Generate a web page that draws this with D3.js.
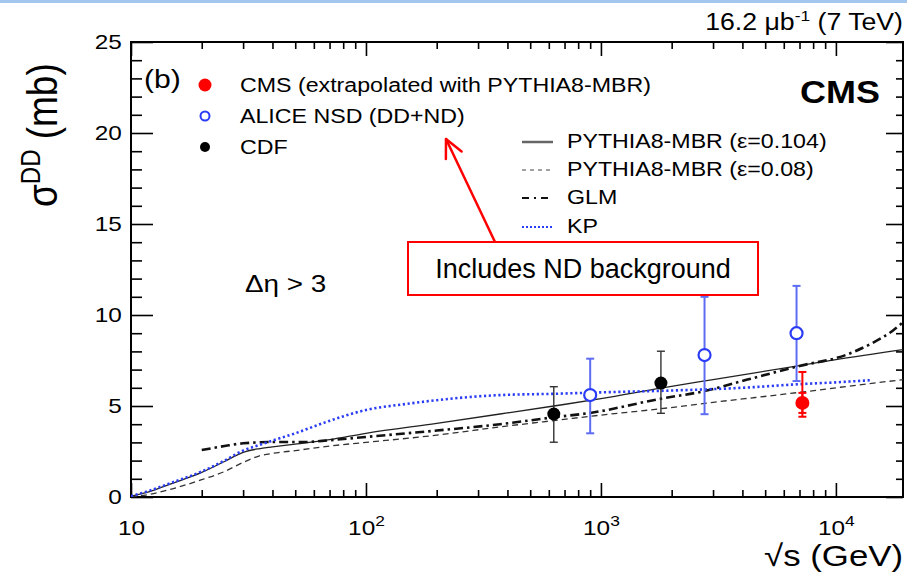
<!DOCTYPE html>
<html><head><meta charset="utf-8">
<script src="https://cdn.jsdelivr.net/npm/d3@7"></script>
<style>
body{margin:0;background:#fff;}
svg{display:block;font-family:"Liberation Sans",Arial,Helvetica,sans-serif;}
</style></head><body>
<svg id="c" width="907" height="574"></svg>
<script>
// ---------------- data ----------------
const xTickMajor = [10, 100, 1000, 10000];
const xTickExp = [1, 2, 3, 4];
const xTickMinor = [20,30,40,50,60,70,80,90,200,300,400,500,600,700,800,900,2000,3000,4000,5000,6000,7000,8000,9000];
const yTickMajor = [0, 5, 10, 15, 20, 25];
const yTickMinor = [1,2,3,4,6,7,8,9,11,12,13,14,16,17,18,19,21,22,23,24];

// PYTHIA8-MBR (eps=0.104)
const p104E   = [10,12,15,20,25,30,35,40,50,70,100,200,372,630,1000,1800,3000,7000,10000,19300];
const p104Sig = [0.05,0.3,0.75,1.35,1.95,2.45,2.65,2.75,2.9,3.15,3.5,4.05,4.56,5.0,5.4,5.98,6.45,7.22,7.55,8.1];
// PYTHIA8-MBR (eps=0.08)
const p08E   = [10,12,15,20,25,30,35,40,50,70,100,200,372,630,1000,1800,3000,7000,10000,19300];
const p08Sig = [0.0,0.15,0.45,0.95,1.4,1.9,2.25,2.4,2.55,2.8,3.0,3.4,3.85,4.2,4.5,4.85,5.2,5.75,6.0,6.45];
// GLM
const glmE   = [20,25,30,40,55,70,100,200,372,630,900,1800,2760,4200,7000,11000,14000,17500,19300];
const glmSig = [2.58,2.8,2.95,3.02,3.02,3.12,3.3,3.65,4.0,4.38,4.62,5.4,5.82,6.45,7.2,7.8,8.4,9.15,9.6];
// KP
const kpE   = [10,12,15,20,25,30,35,40,50,67,100,150,200,372,630,1000,2000,4000,7000,10000,14200];
const kpSig = [0.05,0.35,0.8,1.4,2.0,2.55,2.85,3.1,3.5,4.1,4.78,5.12,5.32,5.6,5.67,5.75,5.85,6.0,6.2,6.3,6.42];

// measurements
const cmsE = [7200], cmsSig = [5.17], cmsUp = [1.70], cmsDn = [0.76], cmsSysUp = [0.55], cmsSysDn = [0.55];
const aliceE = [900, 2760, 6800], aliceSig = [5.6, 7.8, 9.0], aliceUp = [2.0, 3.2, 2.6], aliceDn = [2.1, 3.25, 2.63];
const cdfE = [630, 1800], cdfSig = [4.56, 6.26], cdfUp = [1.5, 1.75], cdfDn = [1.55, 1.66];

const legendMarkers = ["CMS (extrapolated with PYTHIA8-MBR)", "ALICE NSD (DD+ND)", "CDF"];
const legendLines = ["PYTHIA8-MBR (\u03b5=0.104)", "PYTHIA8-MBR (\u03b5=0.08)", "GLM", "KP"];

// ---------------- layout ----------------
const L = 131, R = 903, T = 42, B = 497;
const SX = 1.16; // horizontal stretch of the original plot image
const svg = d3.select("#c");
const x = d3.scaleLog().domain([10, 19300]).range([L, R]);
const y = d3.scaleLinear().domain([0, 25]).range([B, T]);
const BLUE = "#2b3cf5";

svg.append("rect").attr("x",0).attr("y",0).attr("width",907).attr("height",3).attr("fill","#a3c6ef");

function txt(px, py, opts) {
  const g = svg.append("g").attr("transform",
    `translate(${px},${py}) scale(${opts.sx ?? SX},1)` + (opts.rot ? ` rotate(${opts.rot})` : ""));
  const t = g.append("text")
    .attr("font-size", opts.size)
    .attr("text-anchor", opts.anchor || "start")
    .attr("font-weight", opts.weight || "normal")
    .attr("fill", opts.fill || "#000");
  return t;
}

// clip
svg.append("clipPath").attr("id","plotclip").append("rect")
  .attr("x", L).attr("y", T).attr("width", R - L).attr("height", B - T);

// ---------------- axes ticks ----------------
function tickStyle(g) {
  g.select(".domain").remove();
  g.selectAll(".tick line").attr("stroke", "#000").attr("stroke-width", 1.6);
}
svg.append("g").attr("transform", `translate(0,${B})`)
  .call(d3.axisBottom(x).tickValues(xTickMinor).tickSize(-7).tickFormat("")).call(tickStyle);
const xMaj = svg.append("g").attr("transform", `translate(0,${B})`)
  .call(d3.axisBottom(x).tickValues(xTickMajor).tickSize(-14).tickFormat("")).call(tickStyle);
svg.append("g").attr("transform", `translate(0,${T})`)
  .call(d3.axisTop(x).tickValues(xTickMinor).tickSize(-7).tickFormat("")).call(tickStyle);
svg.append("g").attr("transform", `translate(0,${T})`)
  .call(d3.axisTop(x).tickValues(xTickMajor).tickSize(-14).tickFormat("")).call(tickStyle);

svg.append("g").attr("transform", `translate(${L},0)`)
  .call(d3.axisLeft(y).tickValues(yTickMinor).tickSize(-11).tickFormat("")).call(tickStyle);
const yMaj = svg.append("g").attr("transform", `translate(${L},0)`)
  .call(d3.axisLeft(y).tickValues(yTickMajor).tickSize(-22).tickPadding(8).tickFormat(d3.format("d"))).call(tickStyle);
svg.append("g").attr("transform", `translate(${R},0)`)
  .call(d3.axisRight(y).tickValues(yTickMinor).tickSize(-7).tickFormat("")).call(tickStyle);
svg.append("g").attr("transform", `translate(${R},0)`)
  .call(d3.axisRight(y).tickValues(yTickMajor).tickSize(-17).tickFormat("")).call(tickStyle);

yMaj.selectAll(".tick text")
  .attr("font-size", 21).attr("fill", "#000")
  .attr("font-family", '"Liberation Sans",Arial,sans-serif')
  .attr("transform", `scale(${SX},1)`);

xMaj.selectAll(".tick text").each(function(d, i) {
  const t = d3.select(this);
  t.attr("font-size", 21).attr("fill", "#000").attr("y", 38).attr("dy", 0)
   .attr("font-family", '"Liberation Sans",Arial,sans-serif')
   .attr("transform", `scale(${SX},1)`);
  t.text("10");
  if (xTickExp[i] > 1) {
    t.append("tspan").attr("font-size", 15).attr("dy", -9).text(xTickExp[i]);
  }
});

// frame
svg.append("rect").attr("x", L).attr("y", T).attr("width", R - L).attr("height", B - T)
  .attr("fill", "none").attr("stroke", "#000").attr("stroke-width", 2);

// ---------------- curves ----------------
const plot = svg.append("g").attr("clip-path", "url(#plotclip)");
const line = d3.line().x(d => x(d[0])).y(d => y(d[1])).curve(d3.curveMonotoneX);
function curve(E, S, stroke, w, dash) {
  plot.append("path").datum(E.map((e, i) => [e, S[i]]))
    .attr("d", line).attr("fill", "none").attr("stroke", stroke)
    .attr("stroke-width", w).attr("stroke-dasharray", dash || null);
}
curve(p08E, p08Sig, "#333", 1.3, "6,4");
curve(p104E, p104Sig, "#222", 1.3, null);
curve(glmE, glmSig, "#111", 2.6, "9,4,2.5,4");
curve(kpE, kpSig, BLUE, 2.6, "2.2,2.6");

// ---------------- data points ----------------
function errBars(E, S, up, dn, color, w, cap) {
  E.forEach((e, i) => {
    const cx = x(e);
    const y1 = y(S[i] + up[i]), y2 = y(S[i] - dn[i]);
    plot.append("line").attr("x1", cx).attr("x2", cx).attr("y1", y1).attr("y2", y2)
      .attr("stroke", color).attr("stroke-width", w);
    [y1, y2].forEach(yy => plot.append("line").attr("x1", cx - cap).attr("x2", cx + cap)
      .attr("y1", yy).attr("y2", yy).attr("stroke", color).attr("stroke-width", w));
  });
}
errBars(cdfE, cdfSig, cdfUp, cdfDn, "#333", 1.4, 4);
errBars(aliceE, aliceSig, aliceUp, aliceDn, "#5d6cf2", 2, 4);
errBars(cmsE, cmsSig, cmsUp, cmsDn, "#f00", 2, 4);
errBars(cmsE, cmsSig, cmsSysUp, cmsSysDn, "#f00", 2, 4);

plot.selectAll(".cdf").data(cdfE).enter().append("circle")
  .attr("cx", d => x(d)).attr("cy", (d, i) => y(cdfSig[i])).attr("r", 6.5).attr("fill", "#000");
plot.selectAll(".alice").data(aliceE).enter().append("circle")
  .attr("cx", d => x(d)).attr("cy", (d, i) => y(aliceSig[i])).attr("r", 6)
  .attr("fill", "#fff").attr("stroke", BLUE).attr("stroke-width", 2.2);
plot.selectAll(".cms").data(cmsE).enter().append("circle")
  .attr("cx", d => x(d)).attr("cy", (d, i) => y(cmsSig[i])).attr("r", 7).attr("fill", "#f00");

// ---------------- texts ----------------
// title
const tt = txt(R, 30, {size: 23, anchor: "end"});
tt.append("tspan").text("16.2 \u03bcb");
tt.append("tspan").attr("font-size", 15).attr("dy", -9).text("-1");
tt.append("tspan").attr("dy", 9).text(" (7 TeV)");

txt(880, 103, {size: 31, anchor: "end", weight: "bold"}).text("CMS");
txt(144, 88, {size: 26}).text("(b)");

// y label
const yl = txt(57, 207, {size: 37, rot: -90});
yl.append("tspan").text("\u03c3");
yl.append("tspan").attr("font-size", 24).attr("dy", -15).text("DD");
yl.append("tspan").attr("dy", 15).text(" (mb)");

// x label
txt(903, 566, {size: 30, anchor: "end"}).text("\u221as (GeV)");

// Delta eta
txt(245, 292, {size: 24}).text("\u0394\u03b7 > 3");

// left legend
const lmY = [85, 116, 147];
svg.append("circle").attr("cx", 205).attr("cy", lmY[0]).attr("r", 6.5).attr("fill", "#f00");
svg.append("circle").attr("cx", 205).attr("cy", lmY[1]).attr("r", 4.5).attr("fill", "#fff")
  .attr("stroke", BLUE).attr("stroke-width", 2);
svg.append("circle").attr("cx", 205).attr("cy", lmY[2]).attr("r", 5).attr("fill", "#000");
legendMarkers.forEach((s, i) => txt(240, lmY[i] + 7, {size: 20}).text(s));

// right legend
const llY = [142, 170, 198, 227];
const llStyle = [["#666", 2.5, null], ["#444", 1.2, "4,4"], ["#111", 2.2, "7,5,2,5"], [BLUE, 2, "2,2"]];
legendLines.forEach((s, i) => {
  svg.append("line").attr("x1", 522).attr("x2", 553).attr("y1", llY[i]).attr("y2", llY[i])
    .attr("stroke", llStyle[i][0]).attr("stroke-width", llStyle[i][1])
    .attr("stroke-dasharray", llStyle[i][2]);
  txt(567, llY[i] + 6, {size: 20}).text(s);
});

// annotation
const tip = [446, 139], start = [495, 242];
svg.append("line").attr("x1", start[0]).attr("y1", start[1]).attr("x2", tip[0]).attr("y2", tip[1])
  .attr("stroke", "#f00").attr("stroke-width", 2.5);
const ang = Math.atan2(start[1] - tip[1], start[0] - tip[0]);
[-0.45, 0.45].forEach(da => {
  svg.append("line").attr("x1", tip[0]).attr("y1", tip[1])
    .attr("x2", tip[0] + 20 * Math.cos(ang + da)).attr("y2", tip[1] + 20 * Math.sin(ang + da))
    .attr("stroke", "#f00").attr("stroke-width", 2.5).attr("stroke-linecap", "round");
});
svg.append("rect").attr("x", 408).attr("y", 242).attr("width", 350).attr("height", 53)
  .attr("fill", "#fff").attr("stroke", "#f00").attr("stroke-width", 2);
txt(583, 278, {size: 27, anchor: "middle", sx: 1}).text("Includes ND background");
</script>
</body></html>
